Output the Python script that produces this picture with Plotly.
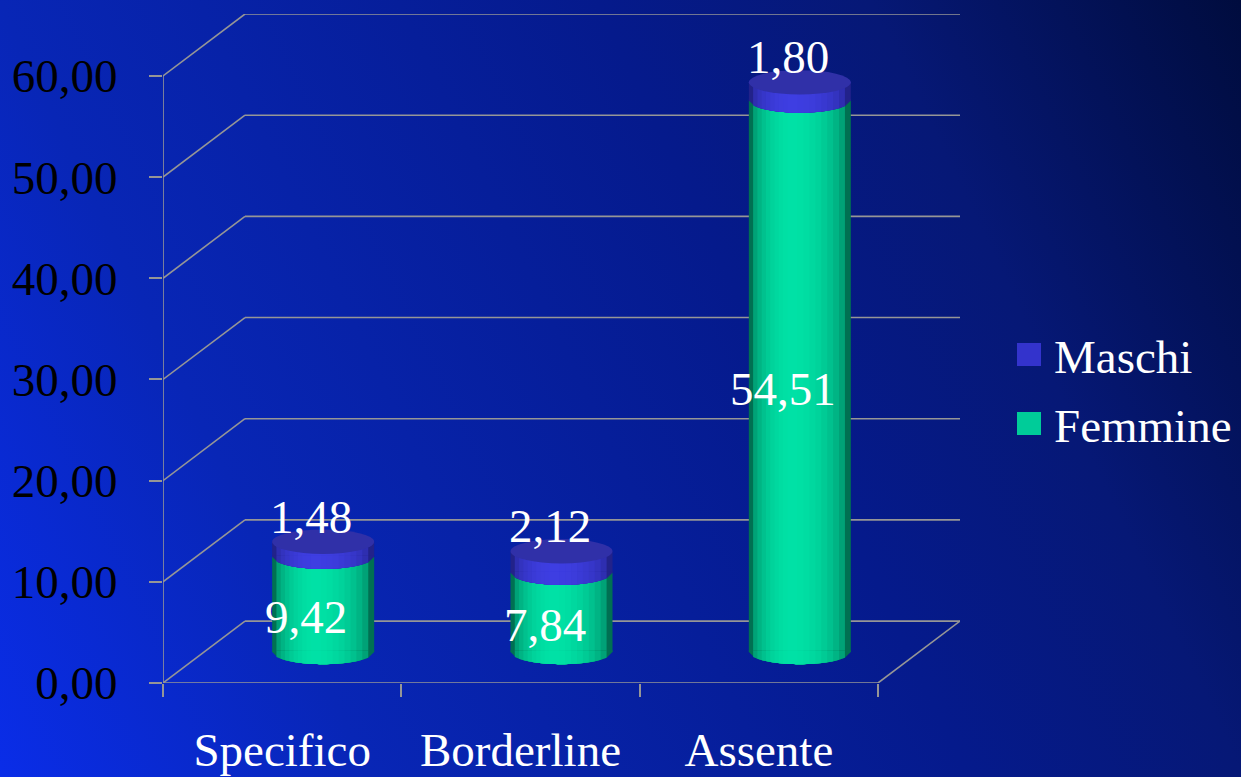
import base64
import plotly.graph_objects as go

# ---- data -------------------------------------------------------------
categories = ["Specifico", "Borderline", "Assente"]
femmine = [9.42, 7.84, 54.51]
maschi = [1.48, 2.12, 1.80]
series_names = ["Maschi", "Femmine"]
y_ticks = [0, 10, 20, 30, 40, 50, 60]


def fmt(v):
    return f"{v:.2f}".replace(".", ",")


# ---- geometry / style -------------------------------------------------
W, H = 1241, 777
ML, MR, MT, MB = 163, 281, 14, 94
PW, PH = W - ML - MR, H - MT - MB

DX = 0.172          # half of the box depth along x (category units)
DY = 3.06           # half of the box depth along y (value units)
n = len(categories)
X_RANGE = [-0.5 - DX, n - 0.5 + DX]
Y_RANGE = [y_ticks[0] - DY, y_ticks[-1] + DY]

CW = 0.428          # cylinder diameter (category units)
RY = 1.2            # vertical radius of the cylinder caps (value units)

GRID = "rgb(150,150,150)"
FONT = "Liberation Serif"
FS = 47

GREEN_EDGE, GREEN_HIGH = (0, 112, 82), (0, 226, 166)
BLUE_EDGE, BLUE_HIGH = (34, 34, 138), (62, 62, 226)
TOP_FACE = (48, 48, 168)
LEG_BLUE, LEG_GREEN = "rgb(51,51,204)", "rgb(0,204,153)"


def lerp(c1, c2, t):
    return tuple(round(a + (b - a) * t) for a, b in zip(c1, c2))


def rgb(c):
    return "rgb(%d,%d,%d)" % c


def px2paper_x(px):
    return (px - ML) / PW


def px2paper_y(py):
    return (H - MB - py) / PH


# ---- background gradient as an inline svg -----------------------------
stops = [(0.0, (10, 45, 232)), (0.23, (8, 38, 182)), (0.6, (5, 26, 140)),
         (0.77, (6, 24, 118)), (1.0, (0, 12, 62))]
stop_xml = "".join(
    f"<stop offset='{o}' stop-color='rgb({c[0]},{c[1]},{c[2]})'/>" for o, c in stops)
svg = (f"<svg xmlns='http://www.w3.org/2000/svg' width='{W}' height='{H}' "
       f"viewBox='0 0 {W} {H}' preserveAspectRatio='none'>"
       "<defs><linearGradient id='g' x1='0' y1='1' x2='1.193' y2='0.642'>"
       f"{stop_xml}</linearGradient></defs>"
       f"<rect width='{W}' height='{H}' fill='url(#g)'/></svg>")
bg_src = "data:image/svg+xml;base64," + base64.b64encode(svg.encode()).decode()

fig = go.Figure()

# ---- cylinders: nested bars give the horizontal shading ----------------
K = 10
U0 = 0.42
layers = []
for k in range(K):
    s = 1 - k / K
    lo, hi = U0 - U0 * s, U0 + (1 - U0) * s
    layers.append((lo, hi, (1 - s * s) ** 0.5))

xs = list(range(n))
tops = [f + m for f, m in zip(femmine, maschi)]
series = [
    ("Femmine", femmine, [0] * n, GREEN_EDGE, GREEN_HIGH),
    ("Maschi", maschi, femmine, BLUE_EDGE, BLUE_HIGH),
]
for name, vals, bases, edge, high in series:
    for k, (lo, hi, b) in enumerate(layers):
        fig.add_bar(
            x=xs, y=vals, base=bases, name=name,
            width=CW * (hi - lo), offset=CW * (lo - 0.5),
            marker=dict(color=rgb(lerp(edge, high, b)), line=dict(width=0)),
            showlegend=False,
            hoverinfo="skip" if k else "y+name",
        )

shapes = []


def cap_path(xc, yc, lo, hi, steps=18):
    x0 = xc + CW * (lo - 0.5)
    x1 = xc + CW * (hi - 0.5)
    pts = []
    for j in range(steps + 1):
        x = x0 + (x1 - x0) * j / steps
        u = (x - xc) / (CW / 2)
        y = yc - RY * max(0.0, 1 - u * u) ** 0.5
        pts.append(f"L {x:.5f},{y:.5f}")
    return f"M {x0:.5f},{yc + 0.15:.5f} " + " ".join(pts) + f" L {x1:.5f},{yc + 0.15:.5f} Z"


# ---- box: back wall grid, side wall, floor -----------------------------
xl, xr = -0.5, n - 0.5
for v in y_ticks:
    shapes.append(dict(type="line", xref="x", yref="y", layer="below",
                       x0=xl - DX, y0=v - DY, x1=xl + DX, y1=v + DY,
                       line=dict(color=GRID, width=1.6)))
    shapes.append(dict(type="line", xref="x", yref="y", layer="below",
                       x0=xl + DX, y0=v + DY, x1=xr + DX, y1=v + DY,
                       line=dict(color=GRID, width=1.6)))
# front value axis
shapes.append(dict(type="line", xref="x", yref="y", layer="below",
                   x0=xl - DX, y0=y_ticks[0] - DY, x1=xl - DX, y1=y_ticks[-1] - DY,
                   line=dict(color=GRID, width=1.6)))
# floor front and right edges
shapes.append(dict(type="line", xref="x", yref="y", layer="below",
                   x0=xl - DX, y0=y_ticks[0] - DY, x1=xr - DX, y1=y_ticks[0] - DY,
                   line=dict(color=GRID, width=1.6)))
shapes.append(dict(type="line", xref="x", yref="y", layer="below",
                   x0=xr - DX, y0=y_ticks[0] - DY, x1=xr + DX, y1=y_ticks[0] + DY,
                   line=dict(color=GRID, width=1.6)))

# ---- cylinder caps -------------------------------------------------------
for i in xs:
    for lo, hi, b in layers:
        shapes.append(dict(type="path", xref="x", yref="y", layer="above",
                           path=cap_path(i, 0, lo, hi),
                           fillcolor=rgb(lerp(GREEN_EDGE, GREEN_HIGH, b)),
                           line=dict(width=0)))
    for lo, hi, b in layers:
        shapes.append(dict(type="path", xref="x", yref="y", layer="above",
                           path=cap_path(i, femmine[i], lo, hi),
                           fillcolor=rgb(lerp(BLUE_EDGE, BLUE_HIGH, b)),
                           line=dict(width=0)))
    shapes.append(dict(type="circle", xref="x", yref="y", layer="above",
                       x0=i - CW / 2, x1=i + CW / 2,
                       y0=tops[i] - RY, y1=tops[i] + RY,
                       fillcolor=rgb(TOP_FACE), line=dict(width=0)))

# ---- legend drawn as squares + text --------------------------------------
annotations = []
for name, color, py in [(series_names[0], LEG_BLUE, 354.5),
                        (series_names[1], LEG_GREEN, 423.5)]:
    shapes.append(dict(type="rect", xref="paper", yref="paper", layer="above",
                       x0=px2paper_x(1017), x1=px2paper_x(1041),
                       y0=px2paper_y(py + 11.5), y1=px2paper_y(py - 11.5),
                       fillcolor=color, line=dict(width=0)))
    annotations.append(dict(xref="paper", yref="paper", x=px2paper_x(1052),
                            y=px2paper_y(py + 2), xanchor="left", yanchor="middle",
                            text=name, showarrow=False,
                            font=dict(family=FONT, size=FS, color="white")))

# ---- value labels -----------------------------------------------------------
for i in xs:
    annotations.append(dict(x=i, y=femmine[i] / 2, xref="x", yref="y",
                            text=fmt(femmine[i]), showarrow=False,
                            xshift=-17, yshift=-13,
                            font=dict(family=FONT, size=FS, color="white")))
    annotations.append(dict(x=i, y=tops[i], xref="x", yref="y",
                            text=fmt(maschi[i]), showarrow=False,
                            xshift=-12, yshift=25,
                            font=dict(family=FONT, size=FS, color="white")))

fig.update_layout(
    width=W, height=H,
    margin=dict(l=ML, r=MR, t=MT, b=MB, pad=0, autoexpand=False),
    barmode="overlay",
    paper_bgcolor="rgb(6,28,140)",
    plot_bgcolor="rgba(0,0,0,0)",
    showlegend=False,
    shapes=shapes,
    annotations=annotations,
    images=[dict(source=bg_src, xref="paper", yref="paper",
                 x=-ML / PW, y=1 + MT / PH, sizex=W / PW, sizey=H / PH,
                 xanchor="left", yanchor="top", sizing="stretch", layer="below")],
    xaxis=dict(
        range=X_RANGE, showgrid=False, zeroline=False, showline=False,
        automargin=False,
        tickmode="array", tickvals=[i - DX for i in xs], ticktext=categories,
        ticks="", ticklabelstandoff=35,
        tickfont=dict(family=FONT, size=FS, color="white"),
        minor=dict(tickmode="array",
                   tickvals=[i - 0.5 - DX + 1e-6 for i in range(n + 1)],
                   ticks="outside", ticklen=13, tickwidth=1.6, tickcolor=GRID),
    ),
    yaxis=dict(
        range=Y_RANGE, showgrid=False, zeroline=False, showline=False,
        automargin=False,
        tickmode="array", tickvals=[v - DY + 1e-6 for v in y_ticks],
        ticktext=[fmt(v) for v in y_ticks],
        ticks="outside", ticklen=13, tickwidth=1.6, tickcolor=GRID,
        ticklabelstandoff=22,
        tickfont=dict(family=FONT, size=FS, color="black"),
    ),
)

fig.write_html("out.html")
